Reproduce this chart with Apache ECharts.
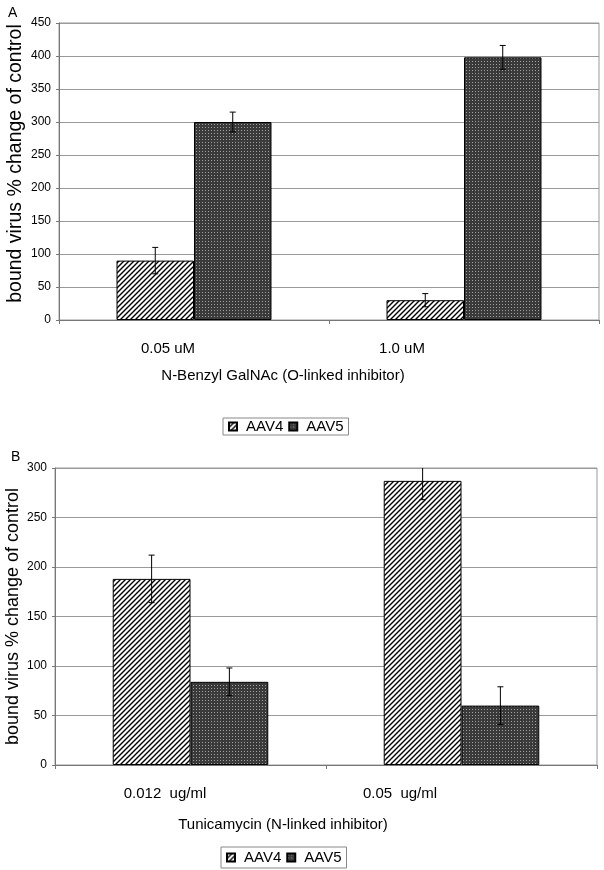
<!DOCTYPE html>
<html>
<head>
<meta charset="utf-8">
<script src="https://cdn.jsdelivr.net/npm/echarts@6/dist/echarts.min.js"></script>
<style>html,body{margin:0;padding:0;background:#fff;}#chart{width:604px;height:870px;}</style>
</head>
<body>
<div id="chart"></div>
<script>
// ---- Data ----
const categoriesA = ['0.05 uM', '1.0 uM'];
const aav4A = [90, 30];
const aav4AErr = [20, 10];
const aav5A = [300, 398];
const aav5AErr = [15, 18];
const yMaxA = 450;

const categoriesB = ['0.012  ug/ml', '0.05  ug/ml'];
const aav4B = [188, 287];
const aav4BErr = [24, 19];
const aav5B = [84, 60];
const aav5BErr = [14, 19];
const yMaxB = 300;

const yInterval = 50;
const seriesNames = ['AAV4', 'AAV5'];
const titleA = 'N-Benzyl GalNAc (O-linked inhibitor)';
const titleB = 'Tunicamycin (N-linked inhibitor)';
const yName = 'bound virus % change of control';

// ---- Patterns ----
function hatchPattern() {
  const s = 5;
  const c = document.createElement('canvas');
  c.width = s; c.height = s;
  const g = c.getContext('2d');
  g.fillStyle = '#fff'; g.fillRect(0, 0, s, s);
  g.strokeStyle = '#000'; g.lineWidth = 1.4;
  g.beginPath();
  g.moveTo(-1, s + 1); g.lineTo(s + 1, -1);
  g.moveTo(-1, 1); g.lineTo(1, -1);
  g.moveTo(s - 1, s + 1); g.lineTo(s + 1, s - 1);
  g.stroke();
  return c;
}
function dotPattern() {
  const s = 3;
  const c = document.createElement('canvas');
  c.width = s; c.height = s;
  const g = c.getContext('2d');
  g.fillStyle = '#3a3a3a'; g.fillRect(0, 0, s, s);
  g.fillStyle = '#a0a0a0'; g.fillRect(1, 1, 1, 1);
  return c;
}
const hatch = { image: hatchPattern(), repeat: 'repeat' };
const dots = { image: dotPattern(), repeat: 'repeat' };

const FONT = 'Liberation Sans, Arial, sans-serif';
const BAR_FRAC = 0.287;

function errSeries(vals, errs, gi, sign) {
  return {
    type: 'custom',
    xAxisIndex: gi, yAxisIndex: gi,
    clip: true,
    silent: true,
    z: 5,
    data: vals.map((v, i) => [i, v - errs[i], v + errs[i]]),
    encode: { x: 0, y: [1, 2] },
    renderItem: function (params, api) {
      const band = api.size([1, 0])[0];
      const cx = api.coord([api.value(0), 0])[0] + sign * band * BAR_FRAC / 2;
      const lo = api.coord([api.value(0), api.value(1)])[1];
      const hi = api.coord([api.value(0), api.value(2)])[1];
      const cap = 3;
      const st = { stroke: '#000', lineWidth: 1 };
      return {
        type: 'group',
        children: [
          { type: 'line', shape: { x1: cx, y1: lo, x2: cx, y2: hi }, style: st },
          { type: 'line', shape: { x1: cx - cap, y1: lo, x2: cx + cap, y2: lo }, style: st },
          { type: 'line', shape: { x1: cx - cap, y1: hi, x2: cx + cap, y2: hi }, style: st }
        ]
      };
    }
  };
}

function barSeries(name, vals, gi, color) {
  return {
    name: name,
    type: 'bar',
    xAxisIndex: gi, yAxisIndex: gi,
    data: vals,
    barWidth: (BAR_FRAC * 100) + '%',
    barGap: '0%',
    itemStyle: { color: color, borderColor: '#000', borderWidth: 1 },
    silent: true
  };
}

function xAxisCfg(cats, gi, shifts, title, titleShift, gap, margin) {
  const rich = {};
  shifts.forEach((s, i) => { rich['c' + i] = { fontSize: 15, fontFamily: FONT, color: '#000', padding: [0, s, 0, 0] }; });
  return {
    type: 'category', gridIndex: gi, data: cats,
    axisLine: { lineStyle: { color: '#777', width: 1 } },
    axisTick: { show: true, length: 4, lineStyle: { color: '#777' } },
    axisLabel: { margin: margin, formatter: (v, i) => '{c' + i + '|' + v + '}', rich: rich },
    name: title, nameLocation: 'middle', nameGap: gap, nameMoveOverlap: false,
    nameTextStyle: { fontSize: 15, fontFamily: FONT, color: '#000', padding: [0, titleShift, 0, 0] }
  };
}

function yAxisCfg(gi, max, nameSize, nameGap, namePad) {
  return {
    type: 'value', gridIndex: gi, min: 0, max: max, interval: yInterval,
    axisLine: { show: true, lineStyle: { color: '#777' } },
    axisTick: { show: true, length: 3, lineStyle: { color: '#777' } },
    axisLabel: { fontSize: 12, fontFamily: FONT, color: '#000', margin: 8 },
    splitLine: { lineStyle: { color: '#999', width: 1 } },
    name: yName, nameLocation: 'middle', nameGap: nameGap, nameMoveOverlap: false,
    nameTextStyle: { fontSize: nameSize, fontFamily: FONT, color: '#000', padding: [0, 0, 0, namePad] }
  };
}

const legendBase = {
  data: seriesNames,
  orient: 'horizontal',
  itemWidth: 8, itemHeight: 8, itemGap: 5,
  borderColor: '#888', borderWidth: 1,
  selectedMode: false,
  icon: 'rect',
  textStyle: { fontSize: 15, fontFamily: FONT, color: '#000', padding: [0, 0, 0, 4] }
};

const chart = echarts.init(document.getElementById('chart'), null, { renderer: 'canvas' });
chart.setOption({
  animation: false,
  backgroundColor: '#fff',
  title: [
    { text: 'A', left: 3, top: 1, textStyle: { fontSize: 14, fontWeight: 'normal', fontFamily: FONT, color: '#000' } },
    { text: 'B', left: 6, top: 445, textStyle: { fontSize: 14, fontWeight: 'normal', fontFamily: FONT, color: '#000' } }
  ],
  grid: [
    { left: 59, top: 23, width: 540, height: 297, show: true, borderColor: '#999', borderWidth: 1, backgroundColor: 'transparent', containLabel: false, outerBoundsMode: 'none' },
    { left: 55, top: 468, width: 542, height: 297, show: true, borderColor: '#999', borderWidth: 1, backgroundColor: 'transparent', containLabel: false, outerBoundsMode: 'none' }
  ],
  legend: [
    Object.assign({}, legendBase, { left: 223, top: 418, padding: [1, 5, 1, 5] }),
    Object.assign({}, legendBase, { left: 221, top: 847, padding: [3, 5, 3, 5] })
  ],
  xAxis: [
    xAxisCfg(categoriesA, 0, [52, 124], titleA, 92, 48, 21),
    xAxisCfg(categoriesB, 1, [51, 123], titleB, 86, 52, 21)
  ],
  yAxis: [
    yAxisCfg(0, yMaxA, 19.5, 33, 16),
    yAxisCfg(1, yMaxB, 18, 33, 0)
  ],
  series: [
    barSeries(seriesNames[0], aav4A, 0, hatch),
    barSeries(seriesNames[1], aav5A, 0, dots),
    barSeries(seriesNames[0], aav4B, 1, hatch),
    barSeries(seriesNames[1], aav5B, 1, dots),
    errSeries(aav4A, aav4AErr, 0, -1),
    errSeries(aav5A, aav5AErr, 0, 1),
    errSeries(aav4B, aav4BErr, 1, -1),
    errSeries(aav5B, aav5BErr, 1, 1)
  ]
});
</script>
</body>
</html>
